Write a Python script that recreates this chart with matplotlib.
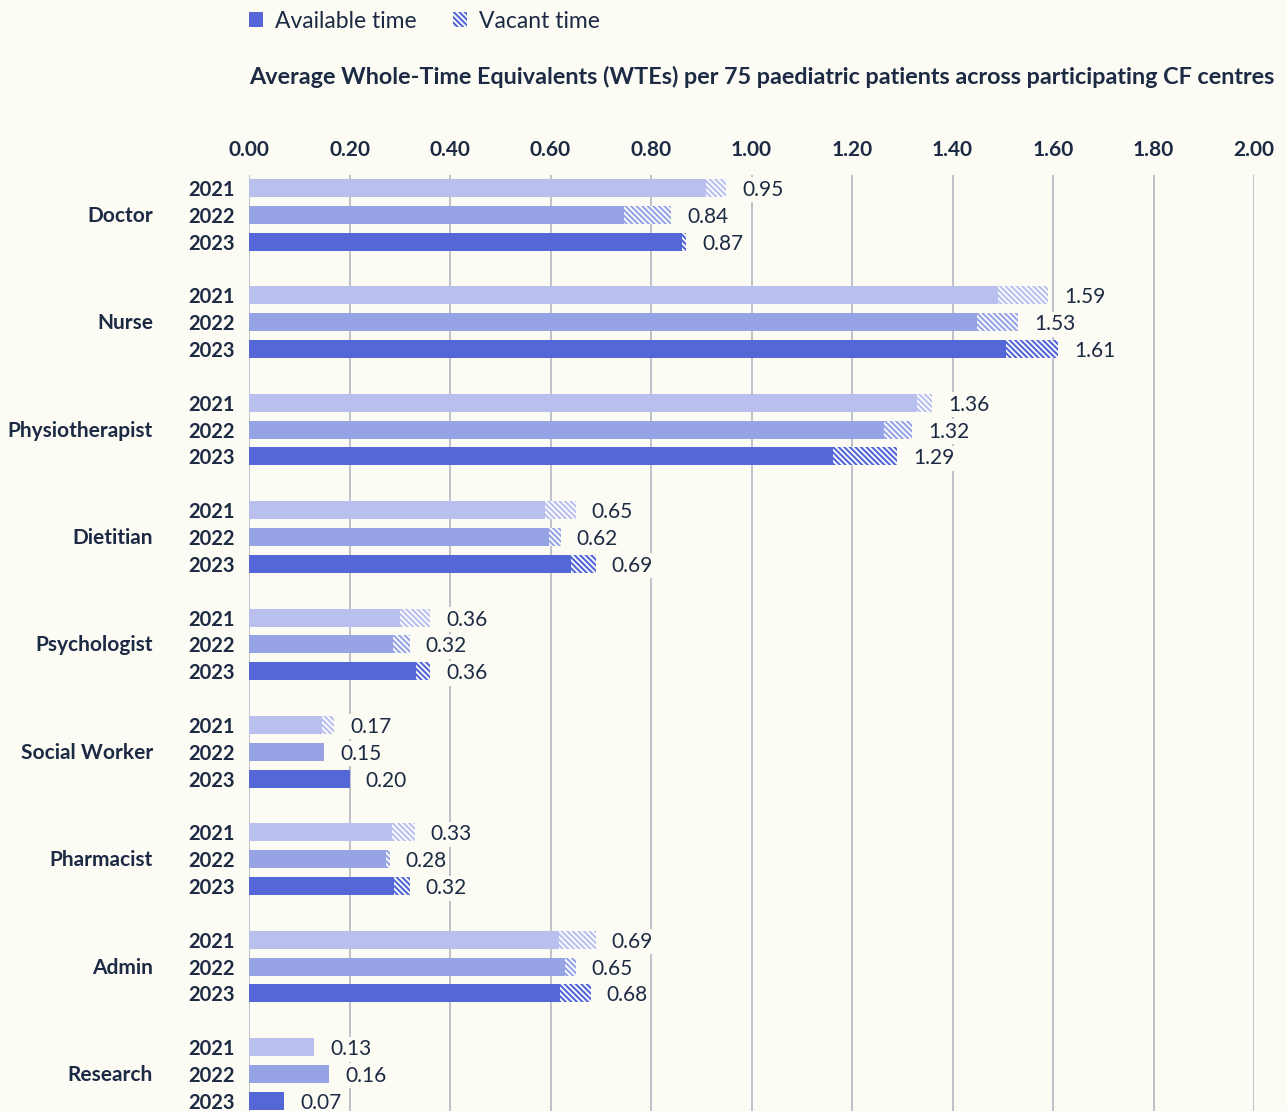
import matplotlib
matplotlib.use("Agg")
import matplotlib.pyplot as plt
from matplotlib.patches import Patch
import numpy as np

plt.rcParams['font.family'] = ['Lato', 'DejaVu Sans']
plt.rcParams['hatch.linewidth'] = 1.3

categories = ["Doctor", "Nurse", "Physiotherapist", "Dietitian", "Psychologist",
              "Social Worker", "Pharmacist", "Admin", "Research"]
years = ["2021", "2022", "2023"]

# available time per year (rows = categories)
available_2021 = [0.91, 1.49, 1.33, 0.59, 0.30, 0.145, 0.285, 0.617, 0.13]
available_2022 = [0.747, 1.448, 1.263, 0.597, 0.287, 0.15, 0.272, 0.629, 0.16]
available_2023 = [0.862, 1.506, 1.163, 0.641, 0.332, 0.20, 0.289, 0.619, 0.07]
# total (available + vacant) per year = data labels
total_2021 = [0.95, 1.59, 1.36, 0.65, 0.36, 0.17, 0.33, 0.69, 0.13]
total_2022 = [0.84, 1.53, 1.32, 0.62, 0.32, 0.15, 0.28, 0.65, 0.16]
total_2023 = [0.87, 1.61, 1.29, 0.69, 0.36, 0.20, 0.32, 0.68, 0.07]

x_ticks = [0.0, 0.2, 0.4, 0.6, 0.8, 1.0, 1.2, 1.4, 1.6, 1.8, 2.0]
title = "Average Whole-Time Equivalents (WTEs) per 75 paediatric patients across participating CF centres"

bg = '#fcfbf4'
text_c = '#1c2a44'
year_colors = ['#b9c0ee', '#96a4e6', '#5367d6']
grid_c = '#b3b7c3'
HATCH = '\\' * 6

W, H = 1287, 1111
fig = plt.figure(figsize=(W / 100, H / 100), dpi=100, facecolor=bg)
ax = fig.add_axes([249 / W, 0, (1254 - 249) / W, (H - 175) / H])
ax.set_facecolor(bg)

avail = [available_2021, available_2022, available_2023]
totals = [total_2021, total_2022, total_2023]

FS = 15
yt, ylabels = [], []
for gi, cat in enumerate(categories):
    for yi in range(3):
        pos = gi * 4 + yi
        a = avail[yi][gi]
        t = totals[yi][gi]
        v = max(t - a, 0)
        ax.barh(pos, a, height=0.67, color=year_colors[yi], linewidth=0, zorder=2)
        if v > 0.001:
            ax.barh(pos, v, left=a, height=0.67, facecolor=year_colors[yi],
                    edgecolor='white', hatch=HATCH, linewidth=0, zorder=2)
        ax.annotate(f"{t:.2f}", xy=(t, pos), xytext=(16, -2), textcoords='offset pixels',
                    ha='left', va='center', fontsize=FS, color=text_c, zorder=4,
                    bbox=dict(boxstyle='square,pad=0.12', fc=bg, ec='none'))
        yt.append(pos)
        ylabels.append(years[yi])
    ax.annotate(cat, xy=(0, gi * 4 + 1), xycoords=('axes fraction', 'data'),
                xytext=(-96, -1), textcoords='offset pixels', ha='right', va='center',
                fontsize=FS, fontweight='bold', color=text_c)

ax.set_xlim(0, 2.0)
ax.set_ylim(34.38, -0.484)
ax.set_yticks(yt)
ax.set_yticklabels(ylabels, fontweight='bold', fontsize=14.5, color=text_c)
ax.set_xticks(x_ticks)
ax.set_xticklabels([f"{x:.2f}" for x in x_ticks], fontweight='bold', fontsize=FS, color=text_c)
ax.xaxis.tick_top()
ax.tick_params(axis='x', length=0, pad=10.5)
ax.tick_params(axis='y', length=0, pad=10.5)
for s in ax.spines.values():
    s.set_visible(False)
ax.grid(axis='x', color=grid_c, linewidth=1.2, zorder=0)
ax.set_axisbelow(True)

fig.text(249 / W, 1 - 77 / H, title, ha='left', va='center', fontsize=16.8,
         fontweight='bold', color=text_c)

handles = [Patch(facecolor='#5367d6', linewidth=0),
           Patch(facecolor='#5367d6', edgecolor='white', hatch=HATCH, linewidth=0)]
fig.legend(handles, ["Available time", "Vacant time"], loc='center left',
           bbox_to_anchor=(249 / W, 1 - 21 / H), ncol=2, frameon=False,
           fontsize=16.5, handlelength=0.62, handleheight=0.62, handletextpad=0.5,
           columnspacing=1.6, labelcolor=text_c, borderaxespad=0, borderpad=0)

fig.savefig("out.png", dpi=100, facecolor=bg)
